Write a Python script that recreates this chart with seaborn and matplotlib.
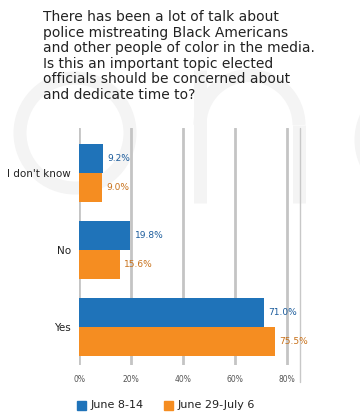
import matplotlib
matplotlib.use("Agg")
import matplotlib.pyplot as plt
from matplotlib.patches import Circle, Arc
import seaborn as sns
import pandas as pd

# survey answers and shares (%) per wave
categories = ["I don't know", "No", "Yes"]
june_8_14 = [9.2, 19.8, 71.0]
june_29_july_6 = [9.0, 15.6, 75.5]
waves = ["June 8-14", "June 29-July 6"]
x_ticks = [0, 20, 40, 60, 80]

df = pd.DataFrame({
    "answer": categories * 2,
    "share": june_8_14 + june_29_july_6,
    "wave": [waves[0]] * 3 + [waves[1]] * 3,
})

blue = "#1f73b9"
orange = "#f58d21"
label_colors = ["#1b5c9c", "#c8711a"]
wm = "#f4f4f4"

sns.set_style("white")
plt.rcParams["font.family"] = ["DejaVu Sans"]

fig = plt.figure(figsize=(3.6, 4.18), dpi=100)

# faint watermark in the background (pixel coords)
bg = fig.add_axes([0, 0, 1, 1], zorder=0)
bg.set_xlim(0, 360)
bg.set_ylim(418, 0)
bg.axis("off")
lw = 13 * 72 / 100
bg.add_patch(Circle((75, 133), 55, fill=False, ec=wm, lw=lw))
bg.add_patch(Arc((249.5, 125), 99, 99, theta1=180, theta2=360, ec=wm, lw=lw))
bg.plot([200, 200], [70, 203], color=wm, lw=lw, solid_capstyle="butt")
bg.plot([299, 299], [125, 203], color=wm, lw=lw, solid_capstyle="butt")
bg.add_patch(Circle((416, 140), 55, fill=False, ec=wm, lw=lw))

ax = fig.add_axes([79 / 360, 1 - 365 / 418, 221 / 360, 237 / 418], zorder=1)
ax.patch.set_alpha(0)

sns.barplot(data=df, y="answer", x="share", hue="wave", order=categories,
            hue_order=waves, palette=[blue, orange], orient="h", width=0.75,
            ax=ax, legend=False, saturation=1, linewidth=0)

for cont, c in zip(ax.containers, label_colors):
    ax.bar_label(cont, fmt="%.1f%%", padding=3, color=c, fontsize=6.5)

ax.set_xlim(0, 85)
ax.set_ylim(2.49, -0.58)
ax.set_xticks(x_ticks)
ax.set_xticklabels([f"{t}%" for t in x_ticks], fontsize=5.5, color="#555555")
ax.tick_params(axis="x", length=4, width=1.5, color="#c4c4c4", pad=3)
ax.tick_params(axis="y", length=0, labelsize=7.5, pad=6, labelcolor="#222222")
ax.set_xlabel("")
ax.set_ylabel("")
ax.set_axisbelow(True)
ax.xaxis.grid(True, color="#c4c4c4", lw=2)
for s in ax.spines.values():
    s.set_visible(False)
ax.axvline(85, ymin=-0.07, ymax=1, color="#c8c8c8", lw=1, clip_on=False)

fig.text(43 / 360, 1 - 10 / 418,
         "There has been a lot of talk about\npolice mistreating Black Americans\n"
         "and other people of color in the media.\nIs this an important topic elected\n"
         "officials should be concerned about\nand dedicate time to?",
         ha="left", va="top", fontsize=10, color="#222222", linespacing=1.14)

# legend
fig.patches.append(plt.Rectangle((77 / 360, 1 - 410 / 418), 9 / 360, 9 / 418,
                                 transform=fig.transFigure, color=blue))
fig.text(91 / 360, 1 - 405 / 418, waves[0], va="center", fontsize=8, color="#222222")
fig.patches.append(plt.Rectangle((164 / 360, 1 - 410 / 418), 9 / 360, 9 / 418,
                                 transform=fig.transFigure, color=orange))
fig.text(178 / 360, 1 - 405 / 418, waves[1], va="center", fontsize=8, color="#222222")

fig.savefig("out.png", dpi=100)
